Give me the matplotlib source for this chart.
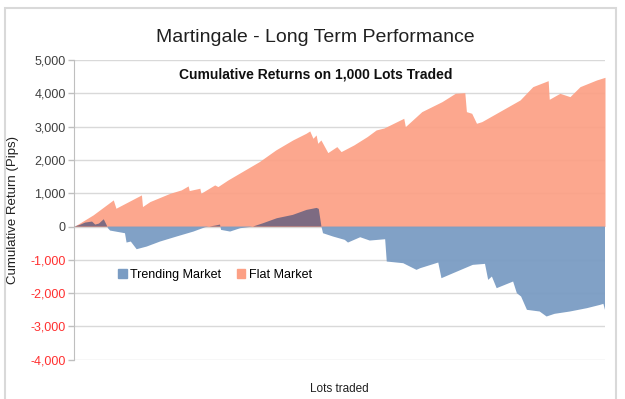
import numpy as np
import matplotlib
matplotlib.use("Agg")
import matplotlib.pyplot as plt
from matplotlib.patches import Patch, Rectangle

plt.rcParams['font.family'] = ['Liberation Sans', 'DejaVu Sans']

# ---- data (lots traded, cumulative pips) ----
flat_lots = [0, 36, 74, 79, 127, 129, 143, 181, 202, 215, 217, 237, 239, 265, 271, 290,
             349, 380, 412, 437, 444, 450, 456, 459, 465, 478, 495, 503, 527, 552, 569, 584,
             621, 624, 655, 693, 718, 736, 739, 749, 758, 768, 840, 864, 893, 895, 915, 934,
             953, 984, 1000]
flat_pips = [0, 350, 800, 550, 950, 600, 750, 1000, 1100, 1220, 1080, 1150, 1000, 1250, 1200, 1400,
             1950, 2300, 2600, 2800, 2870, 2650, 2750, 2500, 2600, 2220, 2400, 2250, 2450, 2700, 2900, 2960,
             3250, 3000, 3450, 3750, 4000, 4020, 3450, 3400, 3100, 3150, 3800, 4200, 4380, 3820, 4000, 3900,
             4200, 4400, 4480]

trend_lots = [0, 11, 21, 34, 40, 47, 56, 61, 64, 68, 96, 99, 107, 118, 137, 162, 193, 225, 247,
              266, 275, 277, 294, 313, 337, 356, 382, 412, 438, 457, 461, 466, 469, 488, 510, 516,
              539, 557, 586, 589, 620, 645, 652, 686, 692, 714, 751, 774, 780, 787, 796, 827, 834,
              842, 853, 877, 890, 905, 934, 966, 991, 997, 1000]
trend_pips = [0, 50, 120, 150, 60, 90, 220, 60, -50, -120, -200, -480, -450, -680, -600, -450, -300, -150, -20,
              30, 60, -100, -150, -50, 0, 100, 250, 350, 500, 560, 530, 0, -200, -300, -400, -480,
              -320, -420, -380, -1050, -1100, -1300, -1250, -1080, -1550, -1400, -1150, -1120, -1600, -1500, -1850, -1650, -2000,
              -2100, -2500, -2550, -2700, -2620, -2550, -2450, -2350, -2320, -2500]

y_ticks = [5000, 4000, 3000, 2000, 1000, 0, -1000, -2000, -3000, -4000]

title = "Martingale - Long Term Performance"
subtitle = "Cumulative Returns on 1,000 Lots Traded"
series_names = ["Trending Market", "Flat Market"]

c_flat = "#FCA085"
c_trend = "#7A9CC3"
c_overlap = "#7D6B82"

fig = plt.figure(figsize=(6.25, 3.99), dpi=100)
fig.patches.append(Rectangle((5/625, -0.02), 611/625, 1.0, transform=fig.transFigure,
                             fill=False, edgecolor="#D9D9D9", lw=1.5, zorder=0))
ax = fig.add_axes([74/625, 1 - 359.8/399, 531/625, (359.8 - 60)/399])

fx = np.array(flat_lots, float); fy = np.array(flat_pips, float)
tx = np.array(trend_lots, float); ty = np.array(trend_pips, float)

ax.fill_between(fx, 0, fy, color=c_flat, lw=0, alpha=0.93, zorder=2)
ax.fill_between(tx, 0, ty, where=ty <= 0, interpolate=True, color=c_trend, lw=0, alpha=0.95, zorder=3)
ax.fill_between(tx, 0, ty, where=ty >= 0, interpolate=True, color=c_overlap, lw=0, zorder=3)

ax.set_xlim(0, 1000)
ax.set_ylim(-4000, 5000)
ax.set_yticks(y_ticks)
ax.set_yticklabels([f"{v:,}" for v in y_ticks], fontsize=9)
for lbl, v in zip(ax.get_yticklabels(), y_ticks):
    lbl.set_color("#FF3030" if v < 0 else "#404040")
ax.set_xticks([])
ax.grid(axis='y', color="#D9D9D9", lw=1, zorder=1)
ax.set_axisbelow(True)
for s in ["top", "right", "bottom"]:
    ax.spines[s].set_visible(False)
ax.spines["left"].set_color("#BFBFBF")
ax.tick_params(axis='y', color="#BFBFBF", length=4, width=1, pad=2)

ax.set_ylabel("Cumulative Return (Pips)", fontsize=9.5, color="#202020", labelpad=8)
ax.set_xlabel("Lots traded", fontsize=8.5, color="#202020", labelpad=17)

fig.text(315/625, 1 - 38/399, title, ha='center', va='center', fontsize=14, color="#202020")
ax.text((316 - 74)/531, 1 - 15/300, subtitle, transform=ax.transAxes, ha='center', va='center',
        fontsize=10, fontweight='bold', color="#101010")

handles = [Patch(color=c_trend, label=series_names[0]), Patch(color=c_flat, label=series_names[1])]
ax.legend(handles=handles, loc='center', bbox_to_anchor=((215 - 74)/531, (359.8 - 275)/300),
          ncol=2, frameon=False, fontsize=9, handlelength=0.7, handleheight=0.7,
          handletextpad=0.3, columnspacing=1.2)

fig.savefig("out.png", dpi=100)
